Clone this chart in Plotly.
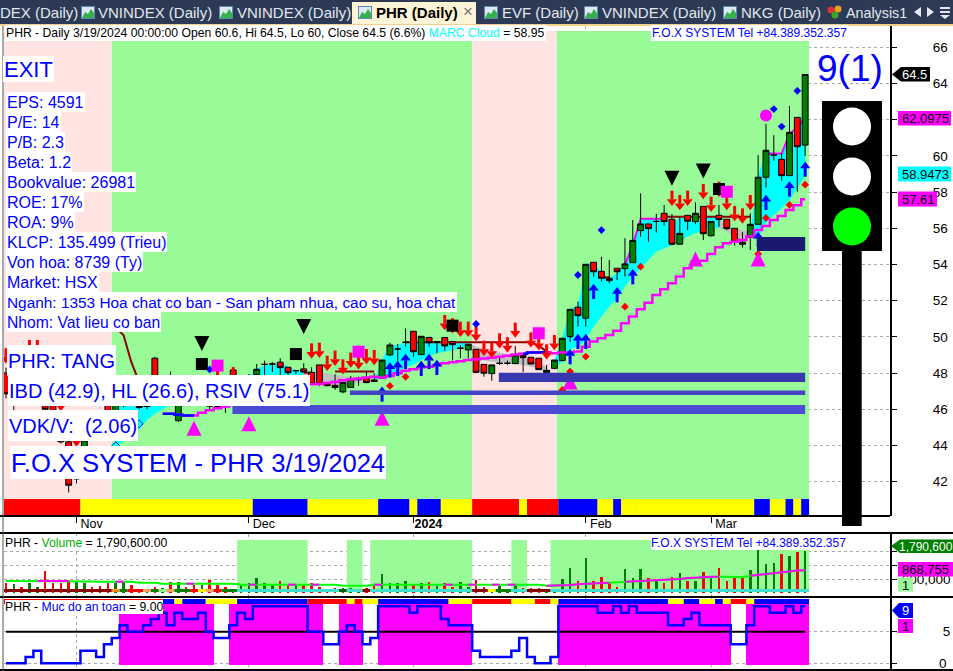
import plotly.graph_objects as go

W, H = 953, 671
BLUE = "#0000ff"
PINK = "#ffe4e1"
GREEN = "#98fb98"
MAG = "#ff00ff"

# ---- price data, bar 0 .. 102 ----
open_ = [48.0,46.6,47.2,46.6,46.7,47.0,46.2,45.6,44.2,42.15,42.4,45.2,45.6,46.3,45.87,46.2,47.4,47.2,46.15,48.82,46.3,47.6,45.37,47.2,47.0,46.5,46.2,47.5,47.3,48.17,47.4,47.5,
 47.91,48.48,48.5,48.6,48.32,48.13,48.23,48.04,48.45,47.43,47.32,46.96,47.2,47.64,47.71,47.62,47.71,49.0,49.33,49.7,50.31,49.02,49.97,49.72,49.96,49.74,49.37,49.28,49.31,48.48,47.97,48.54,48.54,48.52,48.98,48.87,48.82,48.02,
 48.26,48.69,50.01,51.64,51.03,54.12,53.62,53.24,53.79,53.77,54.1,55.87,56.24,56.38,56.83,56.5,55.12,56.72,56.37,57.21,55.59,56.72,56.5,56.0,55.23,55.5,56.22,58.82,60.05,59.81,58.91,62.13,60.6]
high = [48.3,47.4,47.4,47.3,47.4,47.3,46.4,45.8,44.3,42.3,44.4,45.4,45.8,46.6,47.4,47.6,47.6,47.4,47.0,48.9,47.3,48.08,47.5,47.5,47.4,47.5,46.6,47.9,47.5,48.3,47.7,47.95,
 48.5,48.69,48.6,48.82,48.32,48.13,48.54,48.32,48.45,47.43,47.93,47.49,47.84,47.8,48.08,48.0,48.72,49.68,49.61,50.47,50.31,50.03,49.97,49.72,49.96,49.74,49.55,49.59,49.31,48.48,48.45,48.87,48.69,49.5,48.98,48.87,48.82,48.45,
 48.72,49.95,51.52,51.95,54.01,54.12,54.43,54.25,53.79,55.45,56.46,57.93,56.24,56.79,57.29,56.79,56.6,56.72,57.43,57.21,56.38,57.29,56.5,56.0,55.78,56.83,60.05,61.76,61.15,60.14,62.76,62.13,64.5]
low = [46.6,45.96,46.5,46.4,46.5,45.9,45.3,44.1,41.4,41.9,42.2,44.4,45.0,45.2,45.8,46.1,46.6,46.0,46.0,46.2,46.25,46.5,45.3,46.6,46.4,46.35,45.98,46.0,45.8,47.0,47.0,47.3,
 47.91,47.9,48.06,47.8,47.9,47.95,48.06,47.4,47.29,47.3,47.07,46.88,47.2,47.3,47.47,47.53,47.71,48.95,48.6,49.46,48.9,49.02,49.46,49.09,49.24,48.69,48.82,48.81,47.99,47.8,47.58,48.45,48.45,48.52,48.06,48.5,48.19,47.7,
 48.2,48.65,49.73,50.57,50.57,53.33,53.05,52.96,53.14,53.33,54.1,55.54,55.26,55.76,56.15,55.06,55.12,55.9,56.24,55.35,55.55,56.09,55.9,55.04,54.93,54.8,56.22,58.25,59.74,58.63,58.91,58.02,60.0]
close = [46.85,47.2,46.8,47.1,47.2,46.0,45.4,44.2,41.8,42.25,44.3,44.6,45.1,45.4,47.2,47.4,46.8,46.1,46.25,46.3,47.1,46.8,47.0,46.8,46.6,47.2,46.18,46.15,46.2,47.3,47.6,47.85,
 48.21,48.48,48.5,48.3,48.02,48.13,48.06,47.4,47.4,47.3,47.2,47.49,47.66,47.64,47.47,47.53,48.72,49.55,49.33,49.7,49.18,50.03,49.68,49.72,49.5,49.57,49.37,49.59,48.04,47.99,48.45,48.54,48.54,49.0,48.85,48.5,48.19,48.15,
 48.72,49.92,51.52,51.17,54.01,53.6,53.24,53.11,53.6,54.03,55.33,56.24,55.98,56.38,56.37,55.12,55.72,56.39,56.83,55.7,56.38,56.48,55.98,55.23,55.12,56.22,58.82,60.31,60.05,58.91,61.3,60.51,64.5]
bars = list(range(len(close)))

# magenta stepped line (bar 20 onward)
step_line = [None]*20 + [45.75,45.75,45.7,45.65,45.65,45.8,45.95,46.05,46.15,46.3,46.5,46.6,46.8,46.9,47.0,47.1,47.15,47.2,47.3,47.38,47.4,47.45,47.5,47.6,47.65,47.7,47.75,47.8,
 47.75,47.85,47.99,48.13,48.21,48.32,48.35,48.45,48.54,48.6,48.65,48.72,48.76,48.8,48.85,48.9,48.96,49.02,49.07,49.13,49.13,49.15,49.1,49.13,49.13,49.19,49.46,49.74,49.92,50.1,50.34,50.75,51.12,51.52,51.89,52.32,52.63,52.96,53.33,53.79,54.16,54.21,54.58,54.95,55.17,55.26,55.36,55.54,55.9,56.13,56.46,56.68,57.01,57.27,57.6]
step_blue_runs = [(20,24),(66,69)]

# cloud runs: colour, first bar, upper edge, lower edge
cloud_runs = [
 ("#00ffff",14,[47.0,47.7,47.7,47.3,47.0,46.6,46.4,46.25],[44.0,44.2,44.5,44.9,45.4,45.75,46.0,46.25]),
 ("#00ffff",31,[47.84,48.2,48.45,48.45,48.58,48.35,48.17,48.13],[47.84,47.4,47.0,47.1,47.2,47.2,47.3,47.35]),
 ("#c0c0c0",38,[48.13,48.02,48.0,47.99,47.9,47.84,47.8,47.71,47.67,47.58],[47.35,47.4,47.4,47.34,47.34,47.29,47.4,47.47,47.53,47.58]),
 ("#00ffff",47,[47.58,48.72,49.55,49.55,49.7,49.7,49.7,49.7,49.7,49.7,49.7,49.7,49.7],[47.58,47.8,47.9,47.99,48.35,48.45,48.72,48.91,49.09,49.18,49.28,49.37,49.46]),
 ("#c0c0c0",59,[49.7,49.46,49.37,49.24,49.13,49.05,48.94,48.85,48.72,48.54,48.35],[49.46,48.72,48.69,48.63,48.6,48.54,48.5,48.45,48.35,48.26,48.0]),
 ("#00ffff",70,[48.72,49.92,51.58,51.67,54.03,54.12,53.51,53.24,53.51,54.16,55.34,56.53,56.53,56.53,56.64,56.28,56.55,56.64,56.64,56.64,56.64,56.64],[48.26,48.63,49.32,49.46,49.83,50.57,51.12,51.67,52.13,52.78,53.33,53.79,54.25,54.71,54.89,55.08,55.26,55.54,55.72,55.9,56.0,56.0]),
 ("#c0c0c0",91,[56.64,56.0,55.96,55.9,55.72],[56.0,55.87,55.36,55.26,55.63]),
 ("#00ffff",95,[55.72,58.85,60.33,60.14,60.14,61.34,60.97,63.09],[55.63,55.5,56.3,56.73,57.1,57.56,58.2,58.95]),
]

# dark red flat / falling line: first bar, values
resist_runs = [
 (14,[50.5,50.1,48.6,47.5,47.0]),
 (38,[48.02,48.02]),
 (42,[48.08]*6),
 (51,[49.7]*17+[49.5,49.2]),
 (76,[53.29,53.29]),
 (84,[56.64]*12),
]
# magenta upper line: first bar, values
upper_runs = [
 (79,[53.99,55.05,56.53,56.53,56.53,56.53]),
 (97,[60.14,60.14,60.14,61.2,61.6,62.1]),
]

up_arrows_i = [48,49,50,51,53,54,55,72,73,74,75,78,80,96,97,100,102]
up_arrows_p = [47.25,48.58,48.67,49.05,48.67,49.05,48.72,49.31,50.16,50.16,52.92,52.74,53.73,55.8,57.84,58.58,59.68]
down_arrows_i = [0,3,4,7,9,27,29,39,40,41,42,43,44,45,46,47,56,57,58,59,60,61,62,63,64,65,67,68,69,70,85,86,87,89,90,91,92,93,94,95]
down_arrows_p = [48.54,49.0,49.0,45.9,43.94,47.5,47.5,48.81,48.85,48.13,48.41,47.93,48.3,48.21,48.5,48.45,50.38,50.2,50.01,50.01,49.77,48.96,48.85,49.37,49.15,49.96,49.42,49.27,48.76,49.27,57.25,57.01,57.25,57.62,56.92,57.75,57.01,56.4,56.27,57.01]
blue_dia_i = [26,60,73,76,98,99,101]
blue_dia_p = [48.2,50.71,53.42,55.9,62.59,61.62,63.6]
hollow_dia_i = [14,17]
hollow_dia_p = [43.99,45.19]
red_dia_i = [49,51,71,72,74,79,81,96,97,100,102]
red_dia_p = [47.29,47.79,47.07,48.08,48.91,51.67,53.88,54.58,56.57,57.29,58.41]
black_tri_i = [25,38,85,89]
black_tri_p = [49.64,50.57,58.76,59.16]
black_sq_i = [25,37,57,91]
black_sq_p = [48.5,49.05,50.62,58.17]
mag_sq_i = [27,45,68,92]
mag_sq_p = [48.41,49.18,50.2,58.02]
mag_tri_i = [24,31,48,72,88,96]
mag_tri_p = [44.95,45.2,45.5,47.5,54.3,54.3]
mag_dot_i, mag_dot_p = [97], [62.24]

# support bars: first bar, last bar, low, high, colour
support = [
 (28.9,102,45.74,46.23,"#4b4bd6"),
 (43.9,102,46.79,47.03,"#4343c4"),
 (62.9,102,47.5,48.02,"#3838b0"),
 (95.85,102,54.75,55.52,"#191970"),
]

# background zones (bar edges)
zones = [(-0.26,13.5,PINK),(13.5,59.5,GREEN),(59.5,70.3,PINK),(70.3,102.5,GREEN)]
zone_price_top = 66.9
# bottom colour strip
strip_edges = [-0.26,9.5,31.5,38.5,47.5,51.5,52.5,55.5,59.5,65.5,66.5,70.5,75.5,77.5,78.5,80.5,95.5,97.5,99.5,100.5,101.5,102.5]
strip_cols = ["red","yellow","blue","yellow","blue","yellow","blue","yellow","red","yellow","red","blue","yellow","blue","yellow","yellow","blue","yellow","blue","yellow","blue"]
month_ticks = [9,31,52,74,90]
month_labels = ["Nov","Dec","<b>2024</b>","Feb","Mar"]

# ---- volume pane (millions of shares) ----
volume = [.414,.386,.243,.443,.243,.943,.414,.414,.557,.486,.443,.271,.3,.414,.414,.486,.343,.157,.157,.243,.2,.457,.457,.271,.343,.343,.557,.343,.271,.171,.343,.414,.629,.443,.343,.514,.343,.343,.343,.414,.271,.171,.2,.2,.2,.171,.2,.314,.814,.443,.414,.529,.343,.443,.486,.3,.414,.271,.457,.271,
 .557,.243,.05,.314,.157,.343,.2,.229,.229,.129,.171,.6,1.071,.514,1.5,.514,.686,.443,.271,1.029,.629,1.029,.629,.557,.443,.686,.871,.529,.529,.9,.686,1.071,.529,.671,.629,.986,1.843,1.243,1.286,1.671,1.586,1.757,1.7906]
volume_ma = [.514]*10+[.5,.49,.48,.471,.486,.486,.486,.443,.443,.443]+[.4]*10+[.357]*13+[.314]*4+[.357]*13+[.357]*9+[.314]+[.314,.329,.343,.37,.4,.414,.43,.44,.46,.486,.5,.52,.54,.557,.57,.59,.6,.643,.65,.68,.7,.7,.7,.69,.68,.74,.78,.82,.87,.9,.94,.96,.97]
vol_ma_magenta_runs = [(4,8),(14,15),(23,24),(31,32),(36,37),(39,40),(47,48),(56,57),(59,60),(62,63),(64,65),(69,77),(79,91),(93,93),(95,102)]
vol_zones = [(29.5,38.5),(43.5,45.5),(46.5,59.5),(64.5,66.5),(69.5,102.5)]
vol_zone_low, vol_zone_high = 0.043, 2.272
vol_strip_edges = [-0.26,13.5,14.5,15.5,17.5,18.5,19.5,20.5,21.5,23.5,24.5,25.5,26.5,27.5,29.5,42.5,43.5,45.5,46.5,59.5,61.5,62.5,64.5,66.5,69.5,102.5]
vol_strip_cols = ["#8b0000","#ff8c1a","#008000","#ff0000","#f4a460","#008000","#90ee90","#f4a460","#008000","#ff0000","#ffff00","#f4a460","#ff0000","#008000","#40e0d0","#006400","#40e0d0","#8b0000","#40e0d0","#8b0000","#ffff00","#008000","#40e0d0","#8b0000","#40e0d0"]

# ---- safety pane ----
safety = [0,0,0,1,2,0,0,0,0,0,2,2,1,3,4,6,5,5,6,7,8,6,8,7,7,8,5,4,4,6,8,7,9,9,9,9,9,9,9,5,5,3,3,5,6,5,3,4,9,9,9,9,8,9,9,9,7,6,6,6,
 2,1,1,1,1,2,4,1,0,0,1,9,9,9,9,9,8,8,9,8,9,8,8,8,8,6,6,7,8,6,6,6,6,3,3,6,9,9,8,8,9,8,9]
safety_edges = [-0.26,20.0,21.5,22.5,25.5,29.5,38.5,43.5,44.5,45.5,47.5,56.5,59.5,64.5,67.5,69.5,70.5,84.5,86.5,88.5,90.5,91.5,92.5,94.5,95.5,102.5]
safety_cols = ["red","blue","yellow","blue","yellow","blue","red","yellow","red","yellow","blue","yellow","red","yellow","red","yellow","blue","yellow","blue","yellow","blue","yellow","red","yellow","blue"]
safety_level, safety_level_span = 5, (0,102)

# ---- text ----
tabs = [("DEX (Daily)",0,None),("VNINDEX (Daily)",98,81),("VNINDEX (Daily)",237,219),("EVF (Daily)",502,484),("VNINDEX (Daily)",602,584),("NKG (Daily)",741,723)]
fund_lines = ["EPS: 4591","P/E: 14","P/B: 2.3","Beta: 1.2","Bookvalue: 26981","ROE: 17%","ROA: 9%","KLCP: 135.499 (Trieu)","Von hoa: 8739 (Ty)","Market: HSX","Nganh: 1353 Hoa chat co ban - San pham nhua, cao su, hoa chat","Nhom: Vat lieu co ban"]
fund_sizes = [16,16,16,16,16,16,16,16,16,16,15.4,15.7]

FONT = "Liberation Sans"
def px(x): return x / W
def py(y): return 1 - y / H
def rng(run_edges, cols):
    return zip(run_edges[:-1], run_edges[1:], cols)

fig = go.Figure()
M_BOT, M_TOP = 516, 26
V_BOT, V_TOP = 596, 534
S_BOT, S_TOP = 670, 598
xr = [-0.255, 112.83]

shapes = []
def dom(y, bot, top): return (bot - y) / (bot - top)

# main zones / strip
for a, b, c in zones:
    shapes.append(dict(type="rect", xref="x", yref="y", x0=a, x1=b, y0=40.1, y1=zone_price_top, fillcolor=c, line_width=0, layer="between"))

def data_path(xs, ys, close=False):
    return "M" + " L".join(f"{x},{y}" for x, y in zip(xs, ys)) + (" Z" if close else "")

# cloud and the lines behind the candles (data coordinates, below the traces)
for col, first, tops, bots in cloud_runs:
    xs = list(range(first, first + len(tops)))
    shapes.append(dict(type="path", xref="x", yref="y", path=data_path(xs + xs[::-1], tops + bots[::-1], True), fillcolor=col, line_width=0, layer="between"))
for first, vals in resist_runs:
    shapes.append(dict(type="path", xref="x", yref="y", path=data_path(range(first, first + len(vals)), vals), line=dict(color="#8b0000", width=2), layer="between"))
for first, vals in upper_runs:
    shapes.append(dict(type="path", xref="x", yref="y", path=data_path(range(first, first + len(vals)), vals), line=dict(color=MAG, width=2), layer="between"))

for a, b, c in rng(strip_edges, strip_cols):
    shapes.append(dict(type="rect", xref="x", yref="y domain", x0=a, x1=b, y0=dom(515, M_BOT, M_TOP), y1=dom(499, M_BOT, M_TOP), fillcolor=c, line_width=0, layer="above"))
for a, b, lo, hi, c in support:
    shapes.append(dict(type="rect", xref="x", yref="y", x0=a, x1=b, y0=lo, y1=hi, fillcolor=c, line_width=0, layer="above"))
# volume zones / strip
for a, b in vol_zones:
    shapes.append(dict(type="rect", xref="x2", yref="y2", x0=a, x1=b, y0=vol_zone_low, y1=vol_zone_high, fillcolor=GREEN, line_width=0, layer="between"))
for a, b, c in rng(vol_strip_edges, vol_strip_cols):
    shapes.append(dict(type="rect", xref="x2", yref="y2 domain", x0=a, x1=b, y0=dom(592, V_BOT, V_TOP), y1=dom(589, V_BOT, V_TOP), fillcolor=c, line_width=0, layer="above"))
# safety strip
for a, b, c in rng(safety_edges, safety_cols):
    shapes.append(dict(type="rect", xref="x3", yref="y3 domain", x0=a, x1=b, y0=dom(604, S_BOT, S_TOP), y1=dom(599, S_BOT, S_TOP), fillcolor=c, line_width=0, layer="above"))

def add_line(x, y, color, width=2, shape="linear"):
    fig.add_trace(go.Scatter(x=x, y=y, mode="lines", line=dict(color=color, width=width, shape=shape), hoverinfo="skip", showlegend=False, connectgaps=False))

add_line(bars, step_line, MAG, 2.5, "hvh")
for a, b in step_blue_runs:
    add_line(list(range(a, b + 1)), step_line[a:b + 1], "#0000ff", 2.5, "hvh")

# candles
fig.add_trace(go.Candlestick(x=bars, open=open_, high=high, low=low, close=close,
    increasing=dict(line=dict(color="black", width=1), fillcolor="#008000"),
    decreasing=dict(line=dict(color="black", width=1), fillcolor="#ff0000"),
    whiskerwidth=0, hoverinfo="skip", showlegend=False))

def markers(x, y, sym, size, color, line=None):
    fig.add_trace(go.Scatter(x=x, y=y, mode="markers", hoverinfo="skip", showlegend=False,
        marker=dict(symbol=sym, size=size, color=color, line=dict(width=1 if line else 0, color=line or color))))

# arrows: tip price + head marker + stem
ARROW_LEN, HEAD = 0.83, 0.235
def arrows(idx, tips, sign, color, sym):
    sx, sy = [], []
    for i, p in zip(idx, tips):
        sx += [i, i, None]
        sy += [p + sign * 0.35, p + sign * ARROW_LEN, None]
    add_line(sx, sy, color, 3)
    markers(idx, [p + sign * HEAD for p in tips], sym, 9, color)
arrows(up_arrows_i, up_arrows_p, -1, "#0000ff", "triangle-up")
arrows(down_arrows_i, down_arrows_p, 1, "#ff0000", "triangle-down")

markers(blue_dia_i, blue_dia_p, "diamond", 6, "#0000ff")
markers(hollow_dia_i, hollow_dia_p, "diamond", 6, "#00ffff", "#0000ff")
markers(red_dia_i, red_dia_p, "diamond", 6, "#ff0000")
markers(black_sq_i, black_sq_p, "square", 12, "black")
markers(mag_sq_i, mag_sq_p, "square", 12, MAG)
markers(mag_dot_i, mag_dot_p, "circle", 12, MAG)

# fixed-size triangles anchored at data positions
def tri(idx, prices, path, fill):
    for i, p in zip(idx, prices):
        shapes.insert(0, dict(type="path", xref="x", yref="y", xsizemode="pixel", ysizemode="pixel", xanchor=i, yanchor=p,
                              path=path, fillcolor=fill, line_width=0, layer="above"))
tri(mag_tri_i, mag_tri_p, "M-7.5,-7.5 L7.5,-7.5 L0,7.5 Z", MAG)
tri(black_tri_i, black_tri_p, "M-7.5,7.5 L7.5,7.5 L0,-7.5 Z", "black")

# volume
vol_colors = ["#008000" if c >= o else "#ff0000" for o, c in zip(open_, close)]
fig.add_trace(go.Bar(x=bars, y=volume, width=0.32, marker=dict(color=vol_colors, line_width=0), xaxis="x2", yaxis="y2", hoverinfo="skip", showlegend=False))
fig.add_trace(go.Scatter(x=bars, y=volume_ma, mode="lines", line=dict(color="#00ff00", width=2), xaxis="x2", yaxis="y2", hoverinfo="skip", showlegend=False))
for a, b in vol_ma_magenta_runs:
    fig.add_trace(go.Scatter(x=list(range(a, b + 1)), y=volume_ma[a:b + 1], mode="lines", line=dict(color=MAG, width=2), xaxis="x2", yaxis="y2", hoverinfo="skip", showlegend=False))

# safety
safe_x = [i for i, v in zip(bars, safety) if v >= safety_level]
fig.add_trace(go.Bar(x=safe_x, y=[9.6] * len(safe_x), base=-0.3, width=1.03, marker=dict(color=MAG, line_width=0), xaxis="x3", yaxis="y3", hoverinfo="skip", showlegend=False))
fig.add_trace(go.Scatter(x=list(safety_level_span), y=[safety_level] * 2, mode="lines", line=dict(color="black", width=2), xaxis="x3", yaxis="y3", hoverinfo="skip", showlegend=False))
fig.add_trace(go.Scatter(x=bars, y=safety, mode="lines", line=dict(color="#0000ff", width=2.5, shape="hvh"), xaxis="x3", yaxis="y3", hoverinfo="skip", showlegend=False))

# ---- chrome in paper coordinates ----
def prect(x0, y0, x1, y1, fill, layer="above"):
    shapes.append(dict(type="rect", xref="paper", yref="paper", x0=px(x0), x1=px(x1), y0=py(y1), y1=py(y0), fillcolor=fill, line_width=0, layer=layer))
def pline(x0, y0, x1, y1, color="black", width=2):
    shapes.append(dict(type="line", xref="paper", yref="paper", x0=px(x0), x1=px(x1), y0=py(y0), y1=py(y1), line=dict(color=color, width=width), layer="above"))
def pcircle(cx, cy, r, fill):
    shapes.append(dict(type="circle", xref="paper", yref="paper", x0=px(cx - r), x1=px(cx + r), y0=py(cy + r), y1=py(cy - r), fillcolor=fill, line_width=0, layer="above"))
def ppoly(pts, fill):
    d = "M" + " L".join(f"{px(x):.5f},{py(y):.5f}" for x, y in pts) + " Z"
    shapes.append(dict(type="path", xref="paper", yref="paper", path=d, fillcolor=fill, line_width=0, layer="above"))

ann = []
def text(x, y, t, size=12, color="black", bg=None, bold=False, anchor="left", w=None, h=None, pad=0, family=FONT):
    d = dict(xref="paper", yref="paper", x=px(x), y=py(y), text=f"<b>{t}</b>" if bold else t, showarrow=False,
             xanchor=anchor, yanchor="middle", align="left", borderpad=pad, borderwidth=0,
             font=dict(family=family, size=size, color=color))
    if bg: d["bgcolor"] = bg
    if w: d["width"] = w
    if h: d["height"] = h
    ann.append(d)

# tab bar
prect(0, 0, W, 24, "#2c3a55")
prect(0, 24, W, 26, "#f3cf8c")
prect(352, 2, 476, 24, "#fdf3d6")
def icon(x):
    prect(x, 6, x + 14, 19, "#5f86b5")
    prect(x + 1, 7, x + 13, 18, "#dce8f4")
    ppoly([(x + 1, 18), (x + 4, 12), (x + 7, 14), (x + 10, 9), (x + 13, 13), (x + 13, 18)], "#35b04a")
for t, tx, ix in tabs:
    text(tx, 12.5, t, 15, "#e3e8ef")
    if ix is not None: icon(ix)
icon(358)
text(376, 12.5, "PHR (Daily)", 15, "black", bold=True)
text(463, 11.5, "×", 17, "#777777")
pcircle(831, 10, 3.5, "#e03030"); pcircle(838, 9, 3.5, "#e8a020"); pcircle(835, 15, 3.5, "#40a030")
text(846, 12.5, "Analysis1", 14.3, "#e3e8ef")
ppoly([(921, 7), (921, 17), (914, 12)], "#e3e8ef")
ppoly([(927, 7), (927, 17), (934, 12)], "#e3e8ef")
ppoly([(940, 7), (950, 7), (950, 9), (940, 9)], "#e3e8ef")
ppoly([(940, 11), (950, 11), (950, 13), (940, 13)], "#e3e8ef")
ppoly([(940, 15), (950, 15), (945, 19)], "#e3e8ef")

# pane separators, left rule
pline(0, 533, W, 533, "black", 2)
pline(0, 597, W, 597, "black", 2)
pline(0, 670, W, 670, "black", 2)
pline(0, 516, 890, 516, "black", 2)
pline(3, 26, 3, 671, "#555555", 1)

# traffic light
prect(842, 251, 861.7, 526, "black")
prect(822, 101, 882, 251, "black")
pcircle(852, 126.5, 19, "white")
pcircle(852, 176.5, 19, "white")
pcircle(852, 226.5, 19, "#00ff00")

# header + labels
text(5, 33.5, 'PHR - Daily 3/19/2024 00:00:00 Open 60.6, Hi 64.5, Lo 60, Close 64.5 (6.6%) <span style="color:#00ffff">MARC Cloud</span> = 58.95', 12.2, "black", bg="white", pad=1)
text(651, 33.5, "F.O.X SYSTEM Tel +84.389.352.357", 12, "#0000ff", bg="white", pad=1)
text(3, 69, "EXIT", 22, BLUE, bg="white", h=24, pad=1)
for n, (line, sz) in enumerate(zip(fund_lines, fund_sizes)):
    text(6, 102 + 20 * n, line, sz, BLUE, bg="white", h=18, pad=1)
text(7, 360.5, "PHR: TANG", 20, BLUE, bg="white", h=29, pad=1)
text(8, 390.5, "IBD (42.9), HL (26.6), RSIV (75.1)", 20, BLUE, bg="white", h=29, pad=1)
text(8, 425.5, "VDK/V:  (2.06)", 20, BLUE, bg="white", h=29, pad=1)
text(10, 462.5, "F.O.X SYSTEM - PHR 3/19/2024", 25.6, BLUE, bg="white", h=31, pad=1)
text(850, 68, "9(1)", 37, BLUE, anchor="center")

text(5, 542.5, 'PHR - <span style="color:#00b000">Volume</span> = 1,790,600.00', 12.2, "black", bg="white", pad=0)
text(651, 542.5, "F.O.X SYSTEM Tel +84.389.352.357", 12, "#0000ff", bg="white", pad=0)
text(5, 607, 'PHR - <span style="color:#0000ff">Muc do an toan</span> = 9.00', 12.2, "black", bg="white", h=14, pad=0)

# right-axis value tags
ppoly([(892, 74.5), (901, 67), (930, 67), (930, 81.5), (901, 81.5)], "black")
text(902, 74.5, "64.5", 13, "white")
prect(898, 111, 951, 125.5, MAG); text(902, 118.5, "62.0975", 13, "black")
prect(898, 166.5, 951, 181.5, "#00ffff"); text(902, 174.5, "58.9473", 13, "black")
prect(898, 191.5, 937, 206.5, MAG); text(902, 199.5, "57.61", 13, "black")
ppoly([(891, 546), (900, 539.5), (953, 539.5), (953, 553), (900, 553)], "#008000")
text(899, 546.5, "1,790,600", 12, "white")
prect(898, 562, 953, 576.5, MAG); text(902, 569.5, "868,755", 13, "black")
prect(898, 577.5, 913, 591.5, GREEN); text(902, 585, "1", 13, "black")
ppoly([(892, 610.5), (899, 603), (913, 603), (913, 618), (899, 618)], "#0000ff")
text(902, 610.5, "9", 13, "white")
prect(898, 619, 913, 633, MAG); text(902, 626.5, "1", 13, "black")
text(939, 663, "0", 13.5, "black")

axfont = dict(family=FONT, size=13.5, color="black")
grid = dict(showgrid=True, gridcolor="#aaaaaa", griddash="dot", gridwidth=1)
xcommon = dict(domain=[px(4), px(890)], range=xr, tickmode="array", tickvals=month_ticks, zeroline=False, **grid)
ycommon = dict(side="right", showline=True, linecolor="black", linewidth=2, ticks="outside", ticklen=5, tickcolor="black", zeroline=False, tickfont=axfont, **grid)

fig.update_layout(
    width=W, height=H, autosize=False, margin=dict(l=0, r=0, t=0, b=0, autoexpand=False),
    paper_bgcolor="white", plot_bgcolor="white", showlegend=False, bargap=0,
    barmode="overlay", boxmode="overlay", boxgap=0.25, boxgroupgap=0,
    shapes=shapes, annotations=ann,
    font=dict(family=FONT),
    xaxis=dict(ticktext=month_labels, ticks="outside", ticklen=6, tickcolor="black", tickfont=dict(family=FONT, size=12.5, color="black"),
               ticklabelshift=15, ticklabelstandoff=-10, rangeslider=dict(visible=False), anchor="y", **xcommon),
    xaxis2=dict(showticklabels=False, ticks="", anchor="y2", matches="x", **xcommon),
    xaxis3=dict(showticklabels=False, ticks="", anchor="y3", matches="x", **xcommon),
    yaxis=dict(domain=[py(M_BOT), py(M_TOP)], range=[40.1, 67.18], tickmode="array", tickvals=list(range(42, 68, 2)),
               anchor="x", ticklabelstandoff=33, **ycommon),
    yaxis2=dict(domain=[py(V_BOT), py(V_TOP)], range=[-0.1286, 2.529], tickmode="array", tickvals=[0.6, 1.2, 1.8],
                ticktext=["600,000", "", ""], anchor="x2", ticklabelstandoff=2, **ycommon),
    yaxis3=dict(domain=[py(S_BOT), py(S_TOP)], range=[-1.06, 10.32], tickmode="array", tickvals=[0, 5], ticktext=["", "5"],
                anchor="x3", ticklabelstandoff=43, **ycommon),
)

fig.write_html("out.html", config=dict(displayModeBar=False),
               post_script="document.body.style.margin='0';document.body.style.overflow='hidden';")
